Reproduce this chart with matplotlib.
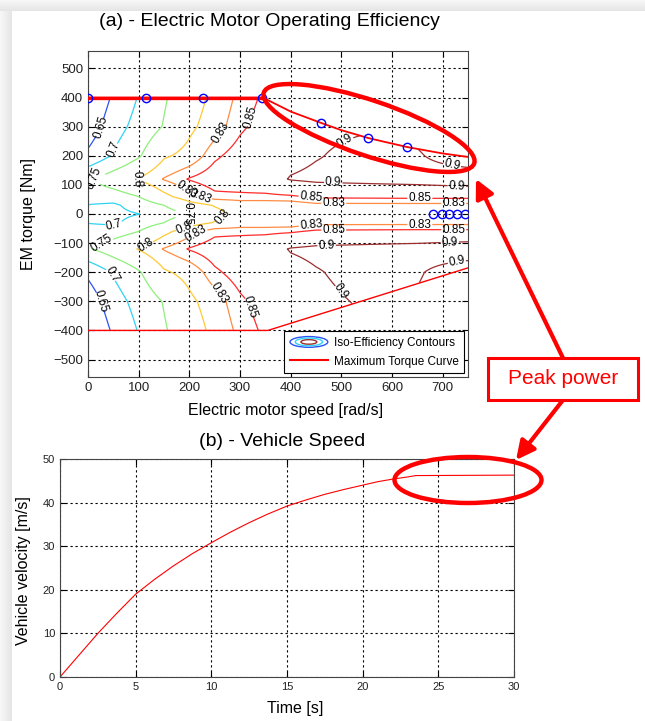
import numpy as np
import matplotlib
matplotlib.use('Agg')
import matplotlib.pyplot as plt
import matplotlib.transforms as mtransforms
from matplotlib.patches import Ellipse, Rectangle, FancyArrowPatch
from matplotlib.legend_handler import HandlerBase
from matplotlib.lines import Line2D

plt.rcParams['font.family'] = ['Liberation Sans', 'DejaVu Sans']

# efficiency map (rows = torque, cols = speed)
eff_speed = [0, 50, 100, 150, 200, 250, 300, 350, 400, 450, 550, 650, 750]
eff_torque = [-400, -300, -200, -120, -60, -30, 0, 30, 60, 120, 200, 300, 400]
eff_map = [
  [0.600, 0.657, 0.703, 0.745, 0.780, 0.810, 0.837, 0.855, 0.870, 0.885, 0.895, 0.890, 0.880],  # -400
  [0.620, 0.678, 0.718, 0.753, 0.792, 0.818, 0.845, 0.862, 0.875, 0.890, 0.905, 0.895, 0.860],  # -300
  [0.660, 0.705, 0.745, 0.795, 0.812, 0.845, 0.862, 0.875, 0.885, 0.897, 0.915, 0.905, 0.870],  # -200
  [0.745, 0.775, 0.802, 0.832, 0.852, 0.865, 0.872, 0.880, 0.903, 0.910, 0.915, 0.920, 0.930],  # -120
  [0.725, 0.730, 0.750, 0.790, 0.820, 0.843, 0.843, 0.843, 0.846, 0.855, 0.856, 0.857, 0.857],  # -60
  [0.698, 0.690, 0.725, 0.750, 0.785, 0.802, 0.815, 0.815, 0.815, 0.823, 0.823, 0.823, 0.823],  # -30
  [0.680, 0.685, 0.699, 0.730, 0.752, 0.790, 0.810, 0.812, 0.812, 0.812, 0.812, 0.812, 0.812],  # 0
  [0.698, 0.690, 0.725, 0.750, 0.785, 0.802, 0.815, 0.815, 0.815, 0.823, 0.823, 0.823, 0.823],  # 30
  [0.725, 0.730, 0.750, 0.790, 0.820, 0.843, 0.843, 0.843, 0.846, 0.855, 0.856, 0.857, 0.857],  # 60
  [0.745, 0.775, 0.802, 0.832, 0.852, 0.865, 0.872, 0.880, 0.903, 0.910, 0.915, 0.920, 0.930],  # 120
  [0.660, 0.705, 0.745, 0.795, 0.812, 0.845, 0.862, 0.875, 0.885, 0.897, 0.915, 0.905, 0.870],  # 200
  [0.620, 0.678, 0.718, 0.753, 0.792, 0.818, 0.845, 0.862, 0.875, 0.890, 0.895, 0.885, 0.860],  # 300
  [0.600, 0.657, 0.703, 0.745, 0.780, 0.810, 0.837, 0.855, 0.870, 0.880, 0.890, 0.880, 0.870],  # 400
]
eff_levels = [0.65, 0.7, 0.75, 0.8, 0.83, 0.85, 0.9]
level_colors = ['#2d52f5', '#2fd3f5', '#8ef07a', '#ffc933', '#ff8c42', '#ff2b2b', '#9c2f2f']

max_speed = [0, 345, 400, 460, 500, 553, 600, 630, 700, 750]
max_torque = [400, 400, 352, 313, 288, 261, 242, 230, 208, 196]
regen_speed = [0, 355, 750]
regen_torque = [-400, -400, -185]

op_speed = [0, 114, 226, 343, 460, 553, 630, 681, 698, 712, 728, 744]
op_torque = [400, 400, 400, 400, 313, 261, 230, 0, 0, 0, 0, 0]

vel_time = [0, 1, 2.5, 3.75, 5, 6.25, 7.5, 8.75, 10, 11.25, 12.5, 13.75, 15, 16.25,
            17.5, 18.75, 20, 21, 22, 23, 23.5, 30]
vel_speed = [0, 4, 10, 14.6, 19, 22.4, 25.5, 28.3, 30.8, 33.2, 35.4, 37.4, 39.2, 40.6,
             41.9, 43.0, 44, 44.8, 45.4, 45.9, 46.2, 46.3]

# where the contour labels sit (speed, torque)
label_spots = [(30, 295), (53, 220), (10, 127), (87, 127), (270, 272), (326, 330),
               (195, 84), (222, 62), (440, 57), (485, 38), (655, 57), (722, 38),
               (511, 244), (718, 165), (484, 106), (728, 96),
               (49, -28), (43, -210), (20, -302), (34, -113), (116, -113), (197, -3),
               (274, -21), (195, -62), (222, -82), (261, -268), (316, -320),
               (440, -34), (485, -52), (655, -34), (722, -52),
               (471, -110), (714, -96), (513, -254), (728, -165)]

## build the map on a fine grid (bilinear)
fine_s = np.linspace(0, 750, 301)
fine_t = np.linspace(-400, 400, 321)
rows = np.array([np.interp(fine_s, eff_speed, r) for r in eff_map])
Z = np.array([np.interp(fine_t, eff_torque, rows[:, j]) for j in range(len(fine_s))]).T
S, T = np.meshgrid(fine_s, fine_t)
top = np.interp(fine_s, max_speed, max_torque)
bot = np.interp(fine_s, regen_speed, regen_torque)
Z = np.ma.masked_where((T > top[None, :] + 0.5) | (T < bot[None, :] - 0.5), Z)

fig = plt.figure(figsize=(6.45, 7.21), dpi=100)
px = mtransforms.Affine2D().scale(0.01, -0.01).translate(0, 7.21) + fig.dpi_scale_trans

# light shadow on the left and top
left_strip = np.ones((721, 12, 3)) * np.linspace(0.97, 0.90, 12)[None, :, None]
top_strip = np.ones((11, 645, 3)) * np.linspace(0.97, 0.90, 11)[:, None, None]
fig.figimage(left_strip, xo=0, yo=0, origin='upper')
fig.figimage(top_strip, xo=0, yo=710, origin='upper')

gridstyle = dict(color='k', linestyle=(0, (2, 2.5)), linewidth=0.8)

ax1 = fig.add_axes([88/645, 1-377/721, 380/645, 326/721])
cs = ax1.contour(S, T, Z, levels=eff_levels, colors=level_colors, linewidths=0.9)
ax1.clabel(cs, fmt='%g', fontsize=8.5, manual=label_spots, inline=True, inline_spacing=1, colors='k')
ax1.plot(max_speed, max_torque, color='red', lw=1.3, zorder=4)
ax1.plot(max_speed[:2], max_torque[:2], color='red', lw=2.4, zorder=4)
ax1.plot(regen_speed, regen_torque, color='red', lw=1.0, zorder=4)
ax1.plot(op_speed, op_torque, 'o', mfc='none', mec='blue', ms=6, mew=1, zorder=5)
ax1.set_xlim(0, 750)
ax1.set_ylim(-560, 560)
ax1.set_xticks(range(0, 701, 100))
ax1.set_yticks(range(-500, 501, 100))
ax1.grid(True, **gridstyle)
ax1.tick_params(direction='in', top=True, right=True, length=4, labelsize=9.5, labelcolor='#222222')


class IsoProxy:
  pass


class IsoHandler(HandlerBase):
  def create_artists(self, legend, orig_handle, xdescent, ydescent, width, height, fontsize, trans):
    cx = width/2 - xdescent
    cy = height/2 - ydescent
    arts = []
    for f, c in [(1.0, '#2d52f5'), (0.72, '#2fd3f5'), (0.42, '#9c2f2f')]:
      arts.append(Ellipse((cx, cy), width*f, height*1.3*f, fill=False, edgecolor=c, lw=1, transform=trans))
    return arts


leg = ax1.legend([IsoProxy(), Line2D([], [], color='red', lw=1.5)],
                 ['Iso-Efficiency Contours', 'Maximum Torque Curve'],
                 handler_map={IsoProxy: IsoHandler()}, loc='lower right', fontsize=8.5,
                 fancybox=False, edgecolor='k', framealpha=1, borderaxespad=0.3,
                 handlelength=3.2, borderpad=0.5, labelspacing=0.55, handletextpad=0.5)
leg.get_frame().set_linewidth(0.8)
leg.set_zorder(6)

ax2 = fig.add_axes([60/645, 1-677/721, 454/645, 218/721])
ax2.plot(vel_time, vel_speed, color='red', lw=0.8)
ax2.set_xlim(0, 30)
ax2.set_ylim(0, 50)
ax2.set_xticks(range(0, 31, 5))
ax2.set_yticks(range(0, 51, 10))
ax2.grid(True, **gridstyle)
ax2.tick_params(direction='in', top=True, right=True, length=4, labelsize=8, labelcolor='#222222')

for ax in (ax1, ax2):
  for sp in ax.spines.values():
    sp.set_color('#444444')

# titles and labels
fig.text(269, 22, '(a) - Electric Motor Operating Efficiency', transform=px, ha='center', va='center', fontsize=14)
fig.text(286, 410, 'Electric motor speed [rad/s]', transform=px, ha='center', va='center', fontsize=11.5)
fig.text(28, 214, 'EM torque [Nm]', transform=px, ha='center', va='center', rotation=90, fontsize=11.5)
fig.text(282, 442, '(b) - Vehicle Speed', transform=px, ha='center', va='center', fontsize=14)
fig.text(24, 571, 'Vehicle velocity [m/s]', transform=px, ha='center', va='center', rotation=90, fontsize=11.5)
fig.text(295, 708, 'Time [s]', transform=px, ha='center', va='center', fontsize=11.5)

# peak power call-out
fig.add_artist(Ellipse((369, 128), 222, 55, angle=18.6, fill=False, ec='red', lw=3.2, transform=px, zorder=8))
fig.add_artist(Ellipse((468, 480), 147, 46, angle=0, fill=False, ec='red', lw=3.2, transform=px, zorder=8))
fig.add_artist(FancyArrowPatch((563, 358), (476, 179), arrowstyle='-|>', mutation_scale=28, lw=3,
                               color='red', transform=px, shrinkA=0, shrinkB=0, zorder=8))
fig.add_artist(FancyArrowPatch((563, 400), (516, 460), arrowstyle='-|>', mutation_scale=28, lw=3,
                               color='red', transform=px, shrinkA=0, shrinkB=0, zorder=8))
fig.add_artist(Rectangle((488, 358), 150, 42, facecolor='white', edgecolor='red', lw=2.2, transform=px, zorder=9))
fig.text(563, 379, 'Peak power', transform=px, ha='center', va='center', fontsize=15, color='red', zorder=10)

fig.savefig('out.png', dpi=100)
